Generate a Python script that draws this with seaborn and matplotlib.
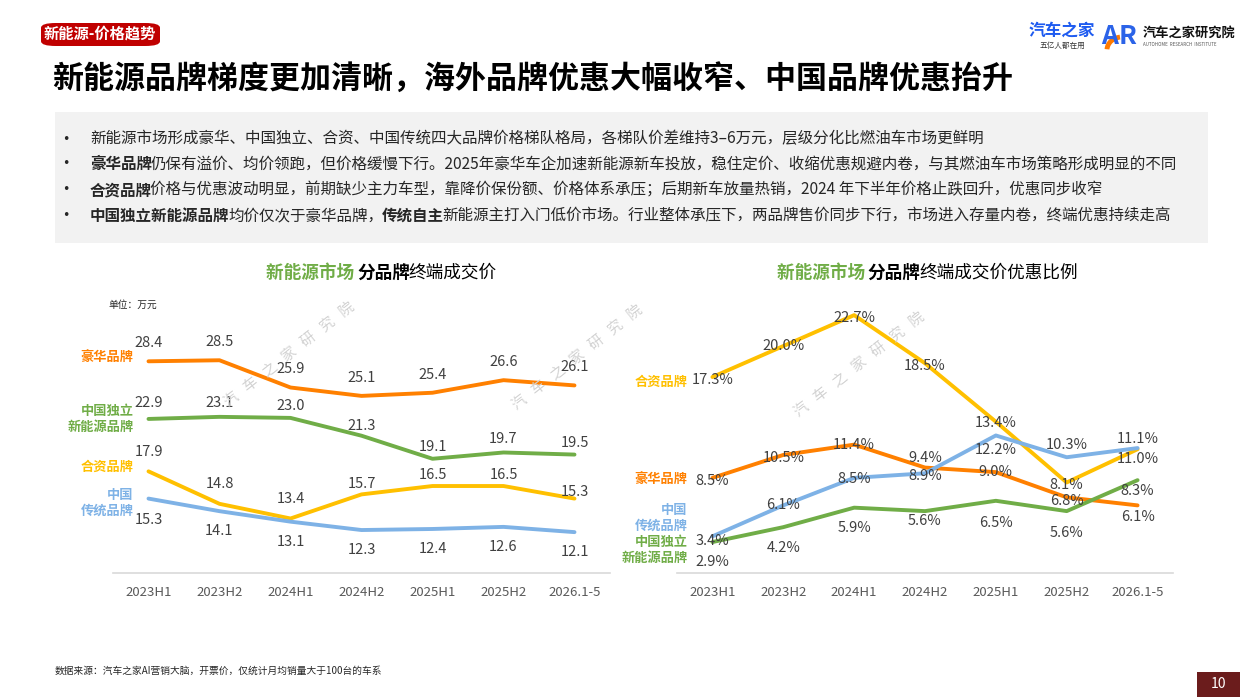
import numpy as np
import pandas as pd
import matplotlib
matplotlib.use('Agg')
import matplotlib.pyplot as plt
import seaborn as sns
from matplotlib.patches import FancyBboxPatch, Rectangle, Arc

# ---- data ----
periods = ['2023H1', '2023H2', '2024H1', '2024H2', '2025H1', '2025H2', '2026.1-5']
brands = ['豪华品牌', '中国独立\n新能源品牌', '合资品牌', '中国\n传统品牌']

price_luxury = [28.4, 28.5, 25.9, 25.1, 25.4, 26.6, 26.1]
price_cn_nev = [22.9, 23.1, 23.0, 21.3, 19.1, 19.7, 19.5]
price_jv = [17.9, 14.8, 13.4, 15.7, 16.5, 16.5, 15.3]
price_cn_trad = [15.3, 14.1, 13.1, 12.3, 12.4, 12.6, 12.1]

disc_luxury = [8.5, 10.5, 11.4, 9.4, 9.0, 6.8, 6.1]
disc_cn_nev = [2.9, 4.2, 5.9, 5.6, 6.5, 5.6, 8.3]
disc_jv = [17.3, 20.0, 22.7, 18.5, 13.4, 8.1, 11.0]
disc_cn_trad = [3.4, 6.1, 8.5, 8.9, 12.2, 10.3, 11.1]

bullets = [
    [('新能源市场形成豪华、中国独立、合资、中国传统四大品牌价格梯队格局，各梯队价差维持3–6万元，层级分化比燃油车市场更鲜明', False)],
    [('豪华品牌', True), ('仍保有溢价、均价领跑，但价格缓慢下行。2025年豪华车企加速新能源新车投放，稳住定价、收缩优惠规避内卷，与其燃油车市场策略形成明显的不同', False)],
    [('合资品牌', True), ('价格与优惠波动明显，前期缺少主力车型，靠降价保份额、价格体系承压；后期新车放量热销，2024 年下半年价格止跌回升，优惠同步收窄', False)],
    [('中国独立新能源品牌', True), ('均价仅次于豪华品牌，', False), ('传统自主', True), ('新能源主打入门低价市场。行业整体承压下，两品牌售价同步下行，市场进入存量内卷，终端优惠持续走高', False)],
]

# ---- style ----
palette = {'豪华品牌': '#FF8000', '中国独立\n新能源品牌': '#70AD47',
           '合资品牌': '#FFC000', '中国\n传统品牌': '#7EB2E6'}

# label offsets in pixels (positive = above the point)
price_offsets = {
    '豪华品牌': [18, 18, 19, 18, 18, 18, 18],
    '中国独立\n新能源品牌': [16, 14, 12, 10, 12, 13, 12],
    '合资品牌': [19, 20, 20, 10, 11, 11, 7],
    '中国\n传统品牌': [-21, -20, -20, -20, -20, -20, -20],
}
disc_offsets = {
    '豪华品牌': [-3, -3, 0, 10, 0, -4, -12],
    '中国独立\n新能源品牌': [-20, -21, -20, -10, -22, -22, -11],
    '合资品牌': [-3, 0, -3, -3, -1, -3, -10],
    '中国\n传统品牌': [-5, 0, -1, -3, -15, 12, 9],
}
price_name_offsets = {'豪华品牌': 3, '中国独立\n新能源品牌': 0, '合资品牌': 5, '中国\n传统品牌': -4}
disc_name_offsets = {'豪华品牌': -2, '中国独立\n新能源品牌': -8, '合资品牌': -5, '中国\n传统品牌': 18}

sns.set_theme(style='white')
plt.rcParams['font.family'] = ['Noto Sans CJK SC', 'DejaVu Sans']

W, H = 1240, 697
fig = plt.figure(figsize=(W / 100, H / 100), dpi=100)
fig.patch.set_facecolor('white')


def fx(px):
    return px / W


def fy(py):
    return 1 - py / H


def draw_runs(x, y, runs, size, ha='left', tighten=0):
    renderer = fig.canvas.get_renderer()
    texts = []
    cur = x
    for txt, color, weight in runs:
        t = fig.text(cur, y, txt, fontsize=size, color=color, fontweight=weight,
                     va='center', ha='left')
        bb = t.get_window_extent(renderer=renderer)
        cur = fig.transFigure.inverted().transform((bb.x1 - tighten, bb.y0))[0]
        texts.append(t)
    if ha == 'center':
        shift = (cur - x) / 2
        for t in texts:
            t.set_x(t.get_position()[0] - shift)


def make_df(series):
    return pd.DataFrame({
        'idx': np.tile(np.arange(len(periods)), len(series)),
        'brand': np.repeat(brands, len(periods)),
        'value': np.concatenate(series),
    })


def draw_chart(ax, df, offsets, name_offsets, name_dx, fmt, ylim):
    sns.lineplot(data=df, x='idx', y='value', hue='brand', palette=palette,
                 lw=2.8, legend=False, ax=ax, sort=False)
    for b in brands:
        sub = df[df.brand == b]
        for (i, v), off in zip(zip(sub.idx, sub.value), offsets[b]):
            ax.annotate(fmt.format(v), (i, v), xytext=(0, off * 0.72),
                        textcoords='offset points', ha='center', va='center',
                        fontsize=10.5, color='#404040')
        ax.annotate(b, (sub.idx.iloc[0], sub.value.iloc[0]),
                    xytext=(name_dx * 0.72, name_offsets[b] * 0.72),
                    textcoords='offset points', ha='right', va='center',
                    fontsize=9.5, fontweight='bold', color=palette[b],
                    linespacing=1.15, multialignment='right')
    ax.set_xlim(-0.5, 6.5)
    ax.set_ylim(*ylim)
    ax.set_xticks(range(len(periods)), periods)
    ax.set_yticks([])
    ax.set_xlabel('')
    ax.set_ylabel('')
    ax.tick_params(axis='x', length=0, pad=9, labelsize=9.5, colors='#595959')
    for s in ['top', 'right', 'left']:
        ax.spines[s].set_visible(False)
    ax.spines['bottom'].set_color('#D9D9D9')
    ax.spines['bottom'].set_linewidth(1.2)
    ax.patch.set_alpha(0)


# ---- watermarks ----
for cx, cy in [(290, 355), (578, 358), (860, 365)]:
    fig.text(fx(cx), fy(cy), '汽   车   之   家   研   究   院', rotation=38,
             ha='center', va='center', fontsize=10.5, color='#D2D2D2', zorder=0)

# ---- charts ----
ax1 = fig.add_axes([fx(113), fy(573), fx(497), 273 / H])
draw_chart(ax1, make_df([price_luxury, price_cn_nev, price_jv, price_cn_trad]),
           price_offsets, price_name_offsets, -15, '{:.1f}', (8.2, 34.25))

ax2 = fig.add_axes([fx(677), fy(573), fx(496), 273 / H])
draw_chart(ax2, make_df([disc_luxury, disc_cn_nev, disc_jv, disc_cn_trad]),
           disc_offsets, disc_name_offsets, -25, '{:.1f}%', (0.2, 24.02))

draw_runs(fx(381), fy(273), [('新能源市场 ', '#70AD47', 'bold'), ('分品牌', 'black', 'bold'),
                             ('终端成交价', 'black', 'normal')], 12.7, ha='center', tighten=1)
draw_runs(fx(927), fy(273), [('新能源市场 ', '#70AD47', 'bold'), ('分品牌', 'black', 'bold'),
                             ('终端成交价优惠比例', 'black', 'normal')], 12.7, ha='center', tighten=1)
fig.text(fx(108), fy(305), '单位：万元', fontsize=7, color='#262626', va='center')

# ---- header ----
tag = FancyBboxPatch((fx(41), fy(46)), fx(119), 23 / H,
                     boxstyle='round,pad=0,rounding_size=0.012', transform=fig.transFigure,
                     facecolor='#C00000', edgecolor='none', mutation_aspect=H / W)
fig.add_artist(tag)
fig.text(fx(100), fy(34), '新能源-价格趋势', fontsize=11, fontweight='bold',
         color='white', ha='center', va='center')
fig.text(fx(52), fy(80), '新能源品牌梯度更加清晰，海外品牌优惠大幅收窄、中国品牌优惠抬升',
         fontsize=22.3, fontweight='bold', color='black', va='center')

fig.text(fx(1062), fy(31), '汽车之家', fontsize=12, fontweight='bold', color='#1E5BF0',
         ha='center', va='center')
fig.text(fx(1062), fy(46), '五亿人都在用', fontsize=5.5, style='italic', color='#333333',
         ha='center', va='center')
fig.text(fx(1101), fy(36), 'A', fontsize=19, fontweight='bold', color='#2B63E8',
         ha='left', va='center')
fig.text(fx(1119), fy(36), 'R', fontsize=19, fontweight='bold', color='#2B63E8',
         ha='left', va='center')
fig.add_artist(Arc((fx(1122), fy(50)), fx(30), 26 / H, theta1=95, theta2=175,
                   transform=fig.transFigure, color='#FF7A00', lw=3.5))
fig.text(fx(1143), fy(33), '汽车之家研究院', fontsize=9.5, fontweight='bold', color='#111111',
         ha='left', va='center')
fig.text(fx(1143), fy(44), 'AUTOHOME  RESEARCH  INSTITUTE', fontsize=3.2, color='#555555',
         ha='left', va='center')

# ---- bullet box ----
fig.add_artist(Rectangle((fx(55), fy(243)), fx(1153), 131 / H, transform=fig.transFigure,
                         facecolor='#F2F2F2', edgecolor='none', zorder=0))
for row, py in zip(bullets, [139, 164, 190, 216]):
    fig.text(fx(66), fy(py), '•', fontsize=9, color='#262626',
             va='center', ha='center', family='DejaVu Sans')
    draw_runs(fx(90), fy(py), [(t, '#262626', 'bold' if b else 'normal') for t, b in row],
              11.2, tighten=1.5)

# ---- footer ----
fig.text(fx(55), fy(671), '数据来源：汽车之家AI营销大脑，开票价，仅统计月均销量大于100台的车系',
         fontsize=7, color='#262626', va='center')
fig.add_artist(Rectangle((fx(1197), 0), fx(43), 25 / H, transform=fig.transFigure,
                         facecolor='#6B1C1C', edgecolor='none'))
fig.text(fx(1218), fy(684), '10', fontsize=10, color='white', ha='center', va='center')

fig.savefig('out.png', dpi=100, facecolor='white')
